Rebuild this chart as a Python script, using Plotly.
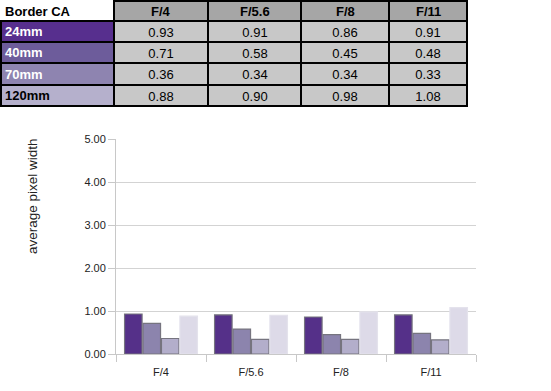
import plotly.graph_objects as go

apertures = ["F/4", "F/5.6", "F/8", "F/11"]
focal = ["24mm", "40mm", "70mm", "120mm"]
v24 = [0.93, 0.91, 0.86, 0.91]
v40 = [0.71, 0.58, 0.45, 0.48]
v70 = [0.36, 0.34, 0.34, 0.33]
v120 = [0.88, 0.90, 0.98, 1.08]
series = [v24, v40, v70, v120]
table_title = "Border CA"
y_title = "average pixel width"
y_ticks = [0, 1, 2, 3, 4, 5]

bar_colors = ["#553089", "#8C84AD", "#B3AECB", "#DDDAE8"]
bar_lines = ["#76747f", "#76747f", "#76747f", "#E4E2EC"]
row_colors = ["#572F8E", "#6D5C9B", "#8E84B0", "#B5B0CC"]
row_text = ["white", "white", "white", "black"]
header_fill = "#A6A6A6"
cell_fill = "#C8C8C8"

W, H = 551, 391
fig = go.Figure()

# ---- table as a heatmap grid (cell layout in pixels of the table axes) ----
col_edges = [1, 114, 208, 301, 389, 467]
row_edges = [1, 21, 42, 63, 85, 106]
palette = ["#FFFFFF", header_fill, cell_fill] + row_colors
z = [[0, 1, 1, 1, 1]]
text = [[""] * 5]
for r in range(len(focal)):
    z.append([3 + r, 2, 2, 2, 2])
    text.append([""] + [f"{series[r][c]:.2f}" for c in range(len(apertures))])
n = len(palette)
cscale = []
for i, c in enumerate(palette):
    cscale.append([i / n, c])
    cscale.append([(i + 1) / n, c])

fig.add_trace(go.Heatmap(
    x=col_edges, y=row_edges, z=z, text=text, texttemplate="%{text}",
    textfont=dict(family="Liberation Sans", size=13, color="black"),
    colorscale=cscale, zmin=-0.5, zmax=n - 0.5, showscale=False,
    xgap=2, ygap=2, hoverinfo="skip", xaxis="x2", yaxis="y2",
))

shapes = [
    dict(type="rect", xref="x2", yref="y2", x0=113, x1=468, y0=0, y1=22,
         fillcolor="black", line_width=0, layer="below"),
    dict(type="rect", xref="x2", yref="y2", x0=0, x1=468, y0=20, y1=107,
         fillcolor="black", line_width=0, layer="below"),
]

annotations = []
mid = lambda e, i: (e[i] + e[i + 1]) / 2
annotations.append(dict(x=3, y=mid(row_edges, 0), xref="x2", yref="y2",
                        text=f"<b>{table_title}</b>", showarrow=False,
                        xanchor="left", font=dict(size=13, color="black")))
for i, a in enumerate(apertures):
    annotations.append(dict(x=mid(col_edges, i + 1), y=mid(row_edges, 0), xref="x2", yref="y2",
                            text=f"<b>{a}</b>", showarrow=False,
                            font=dict(size=13, color="black")))
for r, f in enumerate(focal):
    annotations.append(dict(x=3, y=mid(row_edges, r + 1), xref="x2", yref="y2",
                            text=f"<b>{f}</b>", showarrow=False, xanchor="left",
                            font=dict(size=13, color=row_text[r])))
# y-axis title (sits above the axis centre in the original)
annotations.append(dict(x=32 / W, y=1 - 196 / H, xref="paper", yref="paper",
                        xanchor="center", yanchor="middle",
                        text=y_title, textangle=-90, showarrow=False,
                        font=dict(size=13.5, color="#222222")))

# ---- bar chart ----
for name, vals, c, lc in zip(focal, series, bar_colors, bar_lines):
    fig.add_trace(go.Bar(
        x=apertures, y=vals, name=name,
        marker=dict(color=c, line=dict(color=lc, width=1.2)),
        showlegend=False, xaxis="x", yaxis="y",
    ))

fig.update_layout(
    width=W, height=H,
    margin=dict(l=0, r=0, t=0, b=0),
    paper_bgcolor="white", plot_bgcolor="white",
    barmode="group", bargap=0.18, bargroupgap=0.05,
    font=dict(family="Liberation Sans", size=11, color="#222222"),
    shapes=shapes, annotations=annotations,
    xaxis=dict(
        domain=[116 / W, 476 / W], automargin=False,
        type="category",
        tickson="boundaries",
        ticks="outside", ticklen=7, tickcolor="#C8C8C8",
        ticklabelstandoff=8,
        showline=True, linecolor="#C8C8C8", linewidth=1,
        showgrid=False,
        tickfont=dict(size=11, color="#222222"),
    ),
    yaxis=dict(
        domain=[1 - 354 / H, 1 - 139 / H], automargin=False,
        range=[0, 5],
        tickvals=y_ticks,
        tickformat=".2f",
        ticks="outside", ticklen=7, tickcolor="#C8C8C8",
        showline=True, linecolor="#C8C8C8", linewidth=1,
        showgrid=True, gridcolor="#D3D3D3", gridwidth=1,
        zeroline=False,
        tickfont=dict(size=11, color="#222222"),
    ),
    xaxis2=dict(domain=[0, 1], range=[0, W], visible=False, fixedrange=True),
    yaxis2=dict(domain=[1 - 110 / H, 1], range=[110, 0], visible=False, fixedrange=True),
)

fig.write_html(
    "out.html",
    config={"displayModeBar": False},
    post_script="document.body.style.margin='0';document.body.style.overflow='hidden';",
)
